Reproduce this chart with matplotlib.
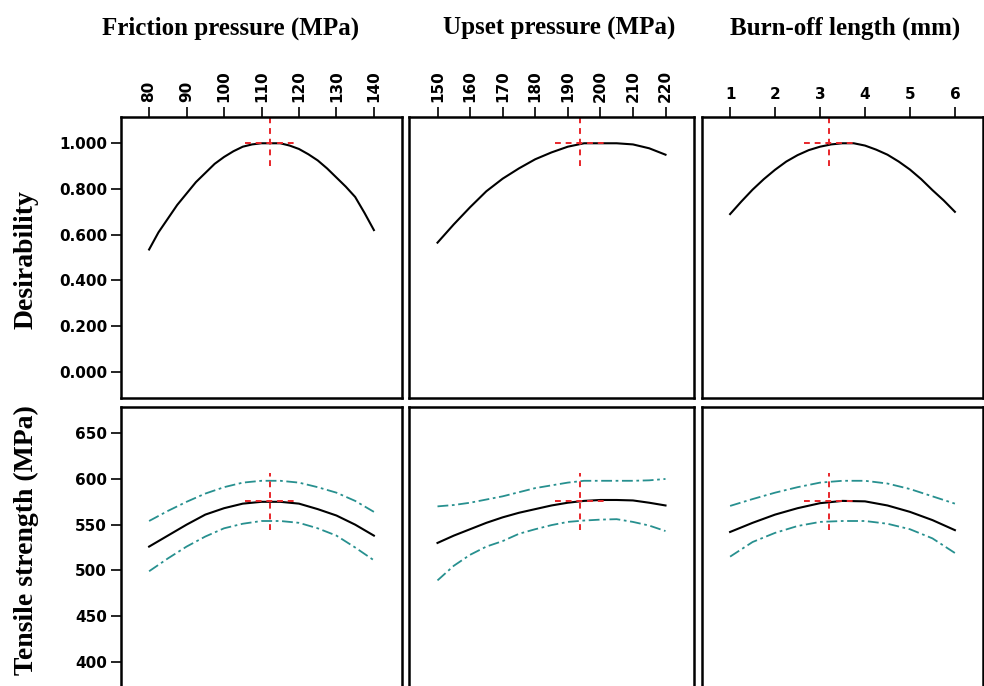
import matplotlib
matplotlib.use("Agg")
from matplotlib import pyplot as plt

# factors (top titles) and tick values
factor_names = ["Friction pressure (MPa)", "Upset pressure (MPa)", "Burn-off length (mm)"]
factor_ticks = [[80, 90, 100, 110, 120, 130, 140],
                [150, 160, 170, 180, 190, 200, 210, 220],
                [1, 2, 3, 4, 5, 6]]

# desirability
fp_dx = [80, 82.5, 85, 87.5, 90, 92.5, 95, 97.5, 100, 102.5, 105, 107.5, 110,
         112.5, 115, 117.5, 120, 122.5, 125, 127.5, 130, 132.5, 135, 137.5, 140]
fp_des = [0.535, 0.61, 0.67, 0.73, 0.78, 0.83, 0.87, 0.91, 0.94, 0.965, 0.985, 0.995, 1.0,
          1.0, 1.0, 0.99, 0.975, 0.952, 0.925, 0.89, 0.85, 0.81, 0.765, 0.695, 0.62]
up_dx = [150, 155, 160, 165, 170, 175, 180, 185, 190, 195, 200, 205, 210, 215, 220]
up_des = [0.565, 0.645, 0.72, 0.79, 0.845, 0.89, 0.93, 0.96, 0.985, 1.0, 1.0, 1.0, 0.995, 0.978, 0.95]
bo_dx = [1, 1.25, 1.5, 1.75, 2, 2.25, 2.5, 2.75, 3, 3.25, 3.5, 3.75, 4,
         4.25, 4.5, 4.75, 5, 5.25, 5.5, 5.75, 6]
bo_des = [0.69, 0.745, 0.797, 0.843, 0.884, 0.92, 0.948, 0.97, 0.985, 0.995, 1.0, 1.0, 0.99,
          0.972, 0.95, 0.92, 0.885, 0.843, 0.795, 0.75, 0.70]

# tensile strength (prediction and confidence band), bottom row
fp_tx = [80, 85, 90, 95, 100, 105, 110, 115, 120, 125, 130, 135, 140]
fp_ts = [526, 538, 550, 561, 568, 573, 575, 575, 573, 567, 560, 550, 538]
fp_hi = [554, 565, 575, 584, 591, 596, 598, 598, 596, 591, 585, 576, 564]
fp_lo = [499, 513, 526, 537, 546, 551, 554, 554, 552, 546, 538, 525, 511]

up_tx = [150, 155, 160, 165, 170, 175, 180, 185, 190, 195, 200, 205, 210, 215, 220]
up_ts = [530, 538, 545, 552, 558, 563, 567, 571, 574, 576, 577, 577, 576.5, 574, 571]
up_hi = [570, 571.5, 574, 577.5, 581, 585.5, 590, 593, 596, 598, 598, 598, 598, 598.5, 600]
up_lo = [489, 505, 517, 526, 532, 540, 545, 549.5, 553, 554.5, 555.5, 556, 553, 549, 543]

bo_tx = [1, 1.5, 2, 2.5, 3, 3.5, 4, 4.5, 5, 5.5, 6]
bo_ts = [542, 552, 561, 568, 573.5, 576, 575.5, 571, 564, 555, 544]
bo_hi = [570.5, 578, 585, 591, 596, 598, 598, 595, 589, 581, 573]
bo_lo = [515, 531, 541, 548.5, 553, 554, 554, 551, 545, 535, 519]

# optimum settings (red cross-hairs)
opt_x = [112.3, 193.7, 3.2]
opt_des = 1.0
opt_ts = 575.5

dxs = [fp_dx, up_dx, bo_dx]
des = [fp_des, up_des, bo_des]
txs = [fp_tx, up_tx, bo_tx]
ts = [fp_ts, up_ts, bo_ts]
his = [fp_hi, up_hi, bo_hi]
los = [fp_lo, up_lo, bo_lo]

W, H = 984, 686
fig = plt.figure(figsize=(W / 100, H / 100), dpi=100)

lefts = [121, 409, 702]
widths = [281, 285, 281]
red = "#e8262a"
teal = "#27908f"
tick_font = dict(family="DejaVu Sans", weight="bold", size=11)
red_ls = (0, (3, 2.5))
band_ls = (0, (6, 2, 1.5, 2))

for i in range(3):
    lo, hi = factor_ticks[i][0], factor_ticks[i][-1]
    pad = 0.125 * (hi - lo)
    xlim = (lo - pad, hi + pad)
    half = 0.11 * (hi - lo)

    # desirability row
    ax = fig.add_axes([lefts[i] / W, 1 - 398 / H, widths[i] / W, 281 / H])
    ax.plot(dxs[i], des[i], color="black", lw=1.5)
    ax.plot([opt_x[i] - half, opt_x[i] + half], [opt_des, opt_des], color=red, lw=1.4, ls=red_ls)
    ax.plot([opt_x[i], opt_x[i]], [opt_des - 0.1, 1.115], color=red, lw=1.4, ls=red_ls)
    ax.set_xlim(xlim)
    ax.set_ylim(-0.115, 1.115)
    ax.set_xticks(factor_ticks[i])
    ax.xaxis.tick_top()
    rot = 90 if i < 2 else 0
    ax.set_xticklabels([str(t) for t in factor_ticks[i]], rotation=rot, **tick_font)
    ax.tick_params(axis="x", direction="out", length=7, width=1.2, pad=4)
    if i == 0:
        ax.set_yticks([0, 0.2, 0.4, 0.6, 0.8, 1.0])
        ax.set_yticklabels(["%.3f" % v for v in [0, 0.2, 0.4, 0.6, 0.8, 1.0]], **tick_font)
        ax.tick_params(axis="y", direction="out", length=7, width=1.2, pad=3)
    else:
        ax.set_yticks([])
    for s in ax.spines.values():
        s.set_linewidth(1.8)

    # tensile strength row (runs off the bottom of the figure)
    ax = fig.add_axes([lefts[i] / W, -2 / H, widths[i] / W, 281 / H])
    ax.plot(txs[i], his[i], color=teal, lw=1.3, ls=band_ls)
    ax.plot(txs[i], los[i], color=teal, lw=1.3, ls=band_ls)
    ax.plot(txs[i], ts[i], color="black", lw=1.5)
    ax.plot([opt_x[i] - half, opt_x[i] + half], [opt_ts, opt_ts], color=red, lw=1.4, ls=red_ls)
    ax.plot([opt_x[i], opt_x[i]], [opt_ts - 31, opt_ts + 31], color=red, lw=1.4, ls=red_ls)
    ax.set_xlim(xlim)
    ax.set_ylim(371.25, 678.75)
    ax.set_xticks([])
    if i == 0:
        ax.set_yticks([400, 450, 500, 550, 600, 650])
        ax.set_yticklabels([str(v) for v in [400, 450, 500, 550, 600, 650]], **tick_font)
        ax.tick_params(axis="y", direction="out", length=7, width=1.2, pad=3)
    else:
        ax.set_yticks([])
    for s in ax.spines.values():
        s.set_linewidth(1.8)

title_font = dict(family="Liberation Serif", weight="bold", size=18)
ylab_font = dict(family="Liberation Serif", weight="bold", size=20)
title_x = [231, 559, 845]
for i in range(3):
    fig.text(title_x[i] / W, 1 - 28 / H, factor_names[i], ha="center", va="center", **title_font)

fig.text(26 / W, 1 - 260 / H, "Desirability", rotation=90, ha="center", va="center", **ylab_font)
fig.text(26 / W, 1 - 540 / H, "Tensile strength (MPa)", rotation=90, ha="center", va="center", **ylab_font)

fig.savefig("out.png", dpi=100)
